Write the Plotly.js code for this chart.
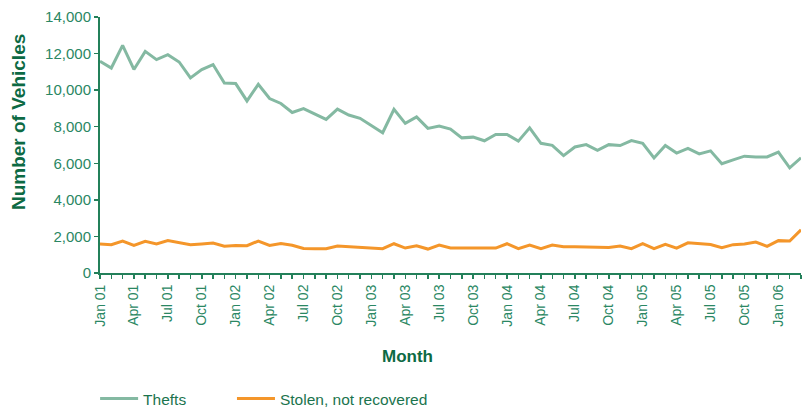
<!DOCTYPE html>
<html>
<head>
<meta charset="utf-8">
<script src="https://cdn.plot.ly/plotly-3.0.1.min.js"></script>
<style>html,body{margin:0;padding:0;background:#fff;}#chart{width:806px;height:407px;}</style>
</head>
<body>
<div id="chart"></div>
<script>
const months = [
  "Jan 01","Feb 01","Mar 01","Apr 01","May 01","Jun 01","Jul 01","Aug 01","Sep 01","Oct 01","Nov 01","Dec 01",
  "Jan 02","Feb 02","Mar 02","Apr 02","May 02","Jun 02","Jul 02","Aug 02","Sep 02","Oct 02","Nov 02","Dec 02",
  "Jan 03","Feb 03","Mar 03","Apr 03","May 03","Jun 03","Jul 03","Aug 03","Sep 03","Oct 03","Nov 03","Dec 03",
  "Jan 04","Feb 04","Mar 04","Apr 04","May 04","Jun 04","Jul 04","Aug 04","Sep 04","Oct 04","Nov 04","Dec 04",
  "Jan 05","Feb 05","Mar 05","Apr 05","May 05","Jun 05","Jul 05","Aug 05","Sep 05","Oct 05","Nov 05","Dec 05",
  "Jan 06","Feb 06","Mar 06"
];
const thefts = [
  11580,11210,12450,11130,12120,11670,11940,11540,10670,11120,11400,10390,
  10360,9410,10320,9540,9270,8780,8990,8690,8400,8960,8640,8460,
  8070,7670,8950,8180,8540,7910,8040,7870,7390,7430,7230,7580,
  7580,7210,7940,7090,6980,6420,6890,7020,6710,7020,6970,7240,
  7090,6290,6970,6560,6820,6510,6680,5980,6190,6390,6350,6350,
  6610,5750,6300
];
const stolenNotRecovered = [
  1580,1550,1750,1510,1730,1590,1770,1650,1550,1590,1640,1460,
  1510,1490,1750,1510,1610,1520,1340,1330,1330,1475,1440,1410,
  1370,1330,1600,1365,1490,1310,1530,1370,1365,1365,1365,1365,
  1600,1330,1530,1330,1530,1440,1430,1420,1410,1400,1475,1330,
  1600,1330,1566,1360,1650,1610,1560,1380,1550,1590,1690,1460,
  1770,1750,2360
];
const tickLabels = ["Jan 01","Apr 01","Jul 01","Oct 01","Jan 02","Apr 02","Jul 02","Oct 02","Jan 03","Apr 03","Jul 03","Oct 03","Jan 04","Apr 04","Jul 04","Oct 04","Jan 05","Apr 05","Jul 05","Oct 05","Jan 06"];
const yTicks = [0,2000,4000,6000,8000,10000,12000,14000];

const tickText = months.map(m => tickLabels.includes(m) ? m : "");

const axisGreen = "#23805a";
const labelGreen = "#2a8763";
const titleGreen = "#0d6a44";
const FONT = "Liberation Sans, Arial, sans-serif";

const data = [
  {x: months, y: thefts, name: "Thefts", type: "scatter", mode: "lines",
   line: {color: "#84b9a2", width: 3}, legend: "legend"},
  {x: months, y: stolenNotRecovered, name: "Stolen, not recovered", type: "scatter", mode: "lines",
   line: {color: "#f4962a", width: 3}, legend: "legend2"}
];

const legendBase = {orientation: "h", xref: "container", yref: "container", y: 0.0197,
  xanchor: "left", yanchor: "middle", itemwidth: 38, bgcolor: "rgba(0,0,0,0)",
  font: {family: FONT, size: 15.5, color: "#1b744e"}};

const layout = {
  width: 806, height: 407,
  margin: {l: 100, r: 5, t: 17, b: 134},
  paper_bgcolor: "#fff", plot_bgcolor: "#fff",
  showlegend: true,
  legend: Object.assign({}, legendBase, {x: 0.118}),
  legend2: Object.assign({}, legendBase, {x: 0.2878}),
  xaxis: {
    type: "category", range: [0, 62],
    tickmode: "array", tickvals: months, ticktext: tickText,
    tickangle: -90, ticks: "outside", ticklen: 4, tickwidth: 1.5, tickcolor: axisGreen,
    showline: true, linecolor: axisGreen, linewidth: 2,
    showgrid: false, zeroline: false,
    tickfont: {family: FONT, size: 14, color: labelGreen}
  },
  yaxis: {
    range: [0, 14000], tickmode: "array", tickvals: yTicks,
    tickformat: ",d", ticks: "outside", ticklen: 4, tickwidth: 1.5, tickcolor: axisGreen,
    showline: true, linecolor: axisGreen, linewidth: 2,
    showgrid: false, zeroline: false,
    tickfont: {family: FONT, size: 15, color: labelGreen}
  },
  annotations: [
    {text: "<b>Month</b>", xref: "paper", yref: "paper", x: 0.438, y: -0.328,
     xanchor: "center", yanchor: "middle", showarrow: false,
     font: {family: FONT, size: 17, color: titleGreen}},
    {text: "<b>Number of Vehicles</b>", xref: "paper", yref: "paper", x: -0.117, y: 0.238,
     xanchor: "center", yanchor: "bottom", textangle: -90, showarrow: false,
     font: {family: FONT, size: 19, color: titleGreen}}
  ]
};

Plotly.newPlot("chart", data, layout, {displayModeBar: false, staticPlot: true});
</script>
</body>
</html>
